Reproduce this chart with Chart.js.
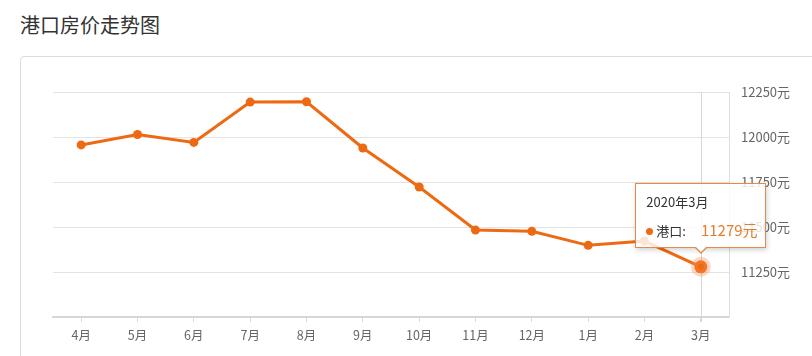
<!DOCTYPE html>
<html>
<head>
<meta charset="utf-8">
<script src="https://cdn.jsdelivr.net/npm/chart.js@4/dist/chart.umd.min.js"></script>
<style>
  html, body { margin: 0; padding: 0; background: #fff; }
  body { width: 812px; height: 356px; position: relative; overflow: hidden;
         font-family: "Noto Sans CJK SC", "Open Sans", sans-serif; }
  #title { position: absolute; left: 20px; top: 11px; font-size: 20px; line-height: 28px; color: #333; }
  #card { position: absolute; left: 20px; top: 56px; width: 820px; height: 340px;
          border: 1px solid #dcdcdc; border-radius: 4px; background: #fff; }
  #wrap { position: absolute; left: 0; top: 0; width: 812px; height: 356px; }
  #tip { position: absolute; display: none; box-sizing: border-box; width: 131px; height: 65px;
         background: rgba(255,255,255,0.82); border: 1px solid #e58a4c;
         box-shadow: 1px 2px 5px rgba(0,0,0,0.18); font-size: 13px; color: #333; }
  #tip .t { position: absolute; left: 10px; top: 8px; line-height: 20px; }
  #tip .b { position: absolute; left: 10px; top: 36px; line-height: 20px; white-space: nowrap; }
  #tip .dot { display: inline-block; width: 7px; height: 7px; border-radius: 50%; background: #ee6a12;
              vertical-align: middle; margin-right: 3px; position: relative; top: -1px; }
  #tip .v { color: #e0802f; margin-left: 15px; font-size: 15px; }
  #tip .c1, #tip .c2 { position: absolute; width: 0; height: 0; left: 50%; }
  #tip .c1 { bottom: -7px; margin-left: -7px; border-left: 7px solid transparent; border-right: 7px solid transparent; border-top: 7px solid #e58a4c; }
  #tip .c2 { bottom: -5px; margin-left: -6px; border-left: 6px solid transparent; border-right: 6px solid transparent; border-top: 6px solid #fff; }
</style>
</head>
<body>
<div id="title">港口房价走势图</div>
<div id="card"></div>
<div id="wrap"><canvas id="c" width="812" height="356"></canvas></div>
<div id="tip"><div class="t"></div><div class="b"></div><div class="c1"></div><div class="c2"></div></div>
<script>
const categories = ['4月', '5月', '6月', '7月', '8月', '9月', '10月', '11月', '12月', '1月', '2月', '3月'];
const prices = [11956, 12014, 11970, 12194, 12196, 11939, 11722, 11483, 11476, 11398, 11422, 11279];
const yTicks = [11000, 11250, 11500, 11750, 12000, 12250];
const seriesName = '港口';
const tooltipTitles = ['2019年4月', '2019年5月', '2019年6月', '2019年7月', '2019年8月', '2019年9月',
                       '2019年10月', '2019年11月', '2019年12月', '2020年1月', '2020年2月', '2020年3月'];
const activeIndex = 11;
const unit = '元';

const ORANGE = '#ee6a12';
const FONT = '"Noto Sans CJK SC", "Open Sans", sans-serif';

const crosshair = {
  id: 'crosshair',
  beforeDatasetsDraw(chart) {
    const x = chart.scales.x.getPixelForValue(activeIndex);
    const { top, bottom } = chart.chartArea;
    const ctx = chart.ctx;
    ctx.save();
    ctx.strokeStyle = '#d6d6d6';
    ctx.lineWidth = 1;
    ctx.beginPath();
    ctx.moveTo(Math.round(x) + 0.5, top);
    ctx.lineTo(Math.round(x) + 0.5, bottom + 5);
    ctx.stroke();
    ctx.restore();
  }
};

function externalTip(context) {
  const tip = document.getElementById('tip');
  const t = context.tooltip;
  if (!t || t.opacity === 0 || !t.dataPoints || !t.dataPoints.length) { tip.style.display = 'none'; return; }
  const dp = t.dataPoints[0];
  tip.querySelector('.t').textContent = tooltipTitles[dp.dataIndex];
  tip.querySelector('.b').innerHTML = '<span class="dot"></span>' + seriesName + ':<span class="v">' + dp.raw + unit + '</span>';
  tip.style.display = 'block';
  tip.style.left = (t.caretX - 65.5) + 'px';
  tip.style.top = (t.caretY - 84) + 'px';
}

const chart = new Chart(document.getElementById('c'), {
  type: 'line',
  data: {
    labels: categories,
    datasets: [{
      label: seriesName,
      data: prices,
      borderColor: ORANGE,
      backgroundColor: ORANGE,
      borderWidth: 3,
      pointRadius: 4.5,
      pointBackgroundColor: ORANGE,
      pointBorderWidth: 0,
      pointHoverRadius: 6.5,
      pointHoverBackgroundColor: ORANGE,
      pointHoverBorderColor: 'rgba(245,140,80,0.35)',
      pointHoverBorderWidth: 7,
      tension: 0
    }]
  },
  options: {
    responsive: false,
    animation: false,
    events: [],
    layout: { padding: { left: 53, top: 92, right: 0, bottom: 0 } },
    plugins: {
      legend: { display: false },
      title: { display: false },
      tooltip: { enabled: false, external: externalTip, mode: 'index', intersect: false }
    },
    scales: {
      x: {
        offset: true,
        grid: { display: true, drawOnChartArea: false, offset: false, tickLength: 5, color: '#d9d9d9' },
        border: { display: true, color: '#d6d6d6', width: 2 },
        ticks: { color: '#666', font: { family: FONT, size: 12.5 }, padding: 6, maxRotation: 0, autoSkip: false },
        afterFit(scale) { scale.height = 39; }
      },
      y: {
        position: 'right',
        min: 11000,
        max: 12250,
        afterBuildTicks(scale) { scale.ticks = yTicks.map(v => ({ value: v })); },
        grid: { color: '#e3e3e3', drawTicks: false },
        border: { display: true, color: '#dedede', width: 1 },
        ticks: {
          color: '#666', font: { family: FONT, size: 13 }, padding: 12,
          callback: (v) => v === yTicks[0] ? '' : v + unit
        },
        afterFit(scale) { scale.width = 83; }
      }
    }
  },
  plugins: [crosshair]
});

const el = [{ datasetIndex: 0, index: activeIndex }];
chart.setActiveElements(el);
const meta = chart.getDatasetMeta(0).data[activeIndex];
chart.tooltip.setActiveElements(el, { x: meta.x, y: meta.y });
chart.update();
</script>
</body>
</html>
